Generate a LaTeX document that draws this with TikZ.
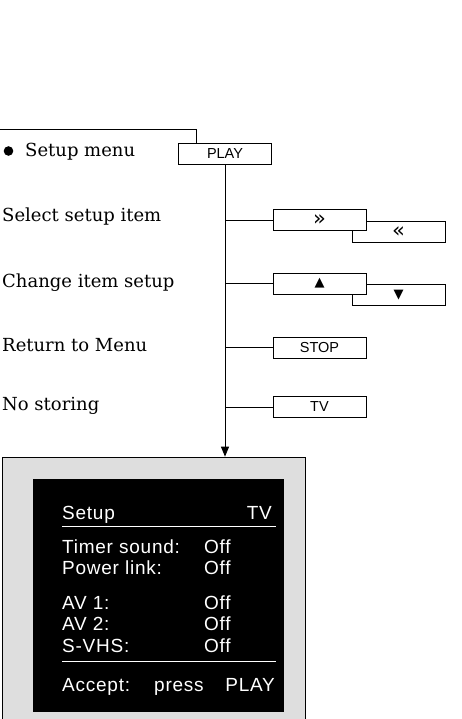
\documentclass[tikz,border=0pt]{standalone}
\usepackage{fontspec}
\setmainfont{DejaVu Serif}
\setsansfont{Liberation Sans}[LetterSpace=4]
\newfontfamily\keyfont{Liberation Sans}
\newfontfamily\symfont{DejaVu Sans}
\usetikzlibrary{arrows.meta}
\tikzset{
  keybox/.style={draw=black, line width=0.9pt, fill=white, inner sep=0pt,
    minimum width=93pt, minimum height=21pt, font=\keyfont\fontsize{14.5}{14.5}\selectfont},
  label/.style={anchor=base west, inner sep=0pt, font=\fontsize{18}{18}\selectfont},
  scr/.style={anchor=base west, inner sep=0pt, text=white, font=\sffamily\fontsize{19}{19}\selectfont},
  conn/.style={draw=black, line width=0.9pt},
}
\begin{document}
\begin{tikzpicture}[x=1pt,y=-1pt]
\useasboundingbox (0,0) rectangle (462,719);
% left labels
\fill (8.5,151) circle (4.8pt);
\node[label] (l0) at (25,157) {Setup menu};
\node[label] (l1) at (2,222) {Select setup item};
\node[label] (l2) at (2,287) {Change item setup};
\node[label] (l3) at (2,351) {Return to Menu};
\node[label] (l4) at (2,410) {No storing};
% key boxes
\node[keybox] (play) at (225,153.5) {PLAY};
\node[keybox] (rew) at (398.5,232) {\symfont\fontsize{21}{21}\selectfont «};
\node[keybox] (ffw) at (319.5,220) {\symfont\fontsize{21}{21}\selectfont »};
\node[keybox] (down) at (398.5,295) {\symfont\fontsize{13}{13}\selectfont ▼};
\node[keybox] (up) at (319.5,283.5) {\symfont\fontsize{13}{13}\selectfont ▲};
\node[keybox] (stop) at (319.5,347.5) {STOP};
\node[keybox] (tv) at (319.5,407) {TV};
% screen
\node[draw=black, line width=0.7pt, fill=black!13, minimum width=303pt, minimum height=262pt, inner sep=0pt] (screen) at (153.5,588) {};
\node[fill=black, minimum width=251pt, minimum height=233pt, inner sep=0pt] (disp) at (158.5,595.5) {};
\node[scr] (s0) at (62,519) {Setup};
\node[scr, anchor=base east] (s0b) at (272,519) {TV};
\draw[white, line width=1pt] (62,526) -- (276,526);
\node[scr] (s1) at (62,553) {Timer sound:};
\node[scr] (s1b) at (204,553) {Off};
\node[scr] (s2) at (62,574) {Power link:};
\node[scr] (s2b) at (204,574) {Off};
\node[scr] (s3) at (62,609) {AV 1:};
\node[scr] (s3b) at (204,609) {Off};
\node[scr] (s4) at (62,630) {AV 2:};
\node[scr] (s4b) at (204,630) {Off};
\node[scr] (s5) at (62,652) {S-VHS:};
\node[scr] (s5b) at (204,652) {Off};
\draw[white, line width=1pt] (62,661) -- (276,661);
\node[scr] (s6) at (62,691) {Accept:};
\node[scr] (s6b) at (154,691) {press};
\node[scr, anchor=base east] (s6c) at (275,691) {PLAY};
% connectors
\coordinate (tl) at (0,129);
\coordinate (tc) at (196,129);
\draw[conn] (tl) -- (tc) -- (tc |- play.north);
\draw[conn, -{Triangle[length=10pt,width=8pt]}] (play.south) -- (play.south |- screen.north);
\draw[conn] (play.south |- ffw.west) -- (ffw.west);
\draw[conn] (play.south |- up.west) -- (up.west);
\draw[conn] (play.south |- stop.west) -- (stop.west);
\draw[conn] (play.south |- tv.west) -- (tv.west);
\end{tikzpicture}
\end{document}
